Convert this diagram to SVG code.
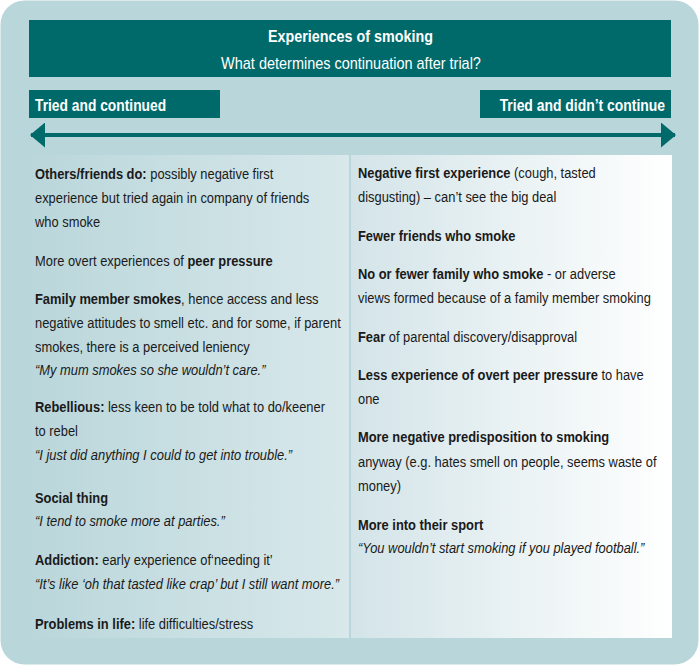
<svg xmlns="http://www.w3.org/2000/svg" width="700" height="666" viewBox="0 0 700 666">
<style>
text{font-family:"Liberation Sans",Arial,sans-serif;font-size:15px;fill:#1a1a1a}
.b{font-weight:bold}
.i{font-style:italic}
.w{fill:#ffffff;font-size:16px}
.bar{fill:#006a6b}
</style>
<defs>
<linearGradient id="gl" x1="0" y1="0" x2="1" y2="0">
<stop offset="0" stop-color="#b9d6da"/>
<stop offset="1" stop-color="#d8e8eb"/>
</linearGradient>
<linearGradient id="gr" x1="0" y1="0" x2="1" y2="0">
<stop offset="0" stop-color="#d3e4e8"/>
<stop offset="1" stop-color="#ffffff"/>
</linearGradient>
<marker id="ah" markerUnits="userSpaceOnUse" markerWidth="15" markerHeight="25" refX="14" refY="12.5" orient="auto-start-reverse">
<path d="M0,0 L15,12.5 L0,25 Z" fill="#006a6b"/>
</marker>
</defs>
<rect x="0.5" y="0.5" width="698" height="664" rx="24" fill="#b9d6da"/>
<g id="title">
<rect class="bar" x="29" y="20" width="642" height="57"/>
<text class="w b" text-anchor="middle" transform="translate(350.5,42) scale(0.897,1)">Experiences of smoking</text>
<text class="w" text-anchor="middle" transform="translate(351,69) scale(0.905,1)">What determines continuation after trial?</text>
</g>
<g id="label-continued">
<rect class="bar" x="29" y="90" width="191" height="28"/>
<text class="w b" transform="translate(35,111) scale(0.863,1)">Tried and continued</text>
</g>
<g id="label-not-continued">
<rect class="bar" x="480" y="90" width="191" height="28"/>
<text class="w b" text-anchor="end" transform="translate(665,111) scale(0.87,1)">Tried and didn’t continue</text>
</g>
<g id="connectors">
<line x1="31" y1="135" x2="675" y2="135" stroke="#006a6b" stroke-width="4" marker-start="url(#ah)" marker-end="url(#ah)"/>
</g>
<g id="panel-continued">
<rect x="22" y="155" width="327" height="483" fill="url(#gl)"/>
<g transform="translate(35,0) scale(0.86,1)">
<text x="0" y="179"><tspan class="b">Others/friends do:</tspan> possibly negative first</text>
<text x="0" y="203">experience but tried again in company of friends</text>
<text x="0" y="227">who smoke</text>
<text x="0" y="266">More overt experiences of <tspan class="b">peer pressure</tspan></text>
<text x="0" y="304"><tspan class="b">Family member smokes</tspan>, hence access and less</text>
<text x="0" y="328">negative attitudes to smell etc. and for some, if parent</text>
<text x="0" y="352">smokes, there is a perceived leniency</text>
<text class="i" x="0" y="375">“My mum smokes so she wouldn’t care.”</text>
<text x="0" y="412"><tspan class="b">Rebellious:</tspan> less keen to be told what to do/keener</text>
<text x="0" y="436">to rebel</text>
<text class="i" x="0" y="460">“I just did anything I could to get into trouble.”</text>
<text class="b" x="0" y="503">Social thing</text>
<text class="i" x="0" y="526">“I tend to smoke more at parties.”</text>
<text x="0" y="565"><tspan class="b">Addiction:</tspan> early experience of‘needing it’</text>
<text class="i" x="0" y="589">“It’s like ‘oh that tasted like crap’ but I still want more.”</text>
<text x="0" y="629"><tspan class="b">Problems in life:</tspan> life difficulties/stress</text>
</g>
</g>
<g id="panel-not-continued">
<rect x="351" y="155" width="321" height="483" fill="url(#gr)"/>
<g transform="translate(358,0) scale(0.86,1)">
<text x="0" y="178"><tspan class="b">Negative first experience</tspan> (cough, tasted</text>
<text x="0" y="202">disgusting) – can’t see the big deal</text>
<text class="b" x="0" y="241">Fewer friends who smoke</text>
<text x="0" y="279"><tspan class="b">No or fewer family who smoke</tspan> - or adverse</text>
<text x="0" y="303">views formed because of a family member smoking</text>
<text x="0" y="342"><tspan class="b">Fear</tspan> of parental discovery/disapproval</text>
<text x="0" y="380"><tspan class="b">Less experience of overt peer pressure</tspan> to have</text>
<text x="0" y="404">one</text>
<text class="b" x="0" y="442">More negative predisposition to smoking</text>
<text x="0" y="467">anyway (e.g. hates smell on people, seems waste of</text>
<text x="0" y="491">money)</text>
<text class="b" x="0" y="530">More into their sport</text>
<text class="i" x="0" y="553">“You wouldn’t start smoking if you played football.”</text>
</g>
</g>
</svg>
